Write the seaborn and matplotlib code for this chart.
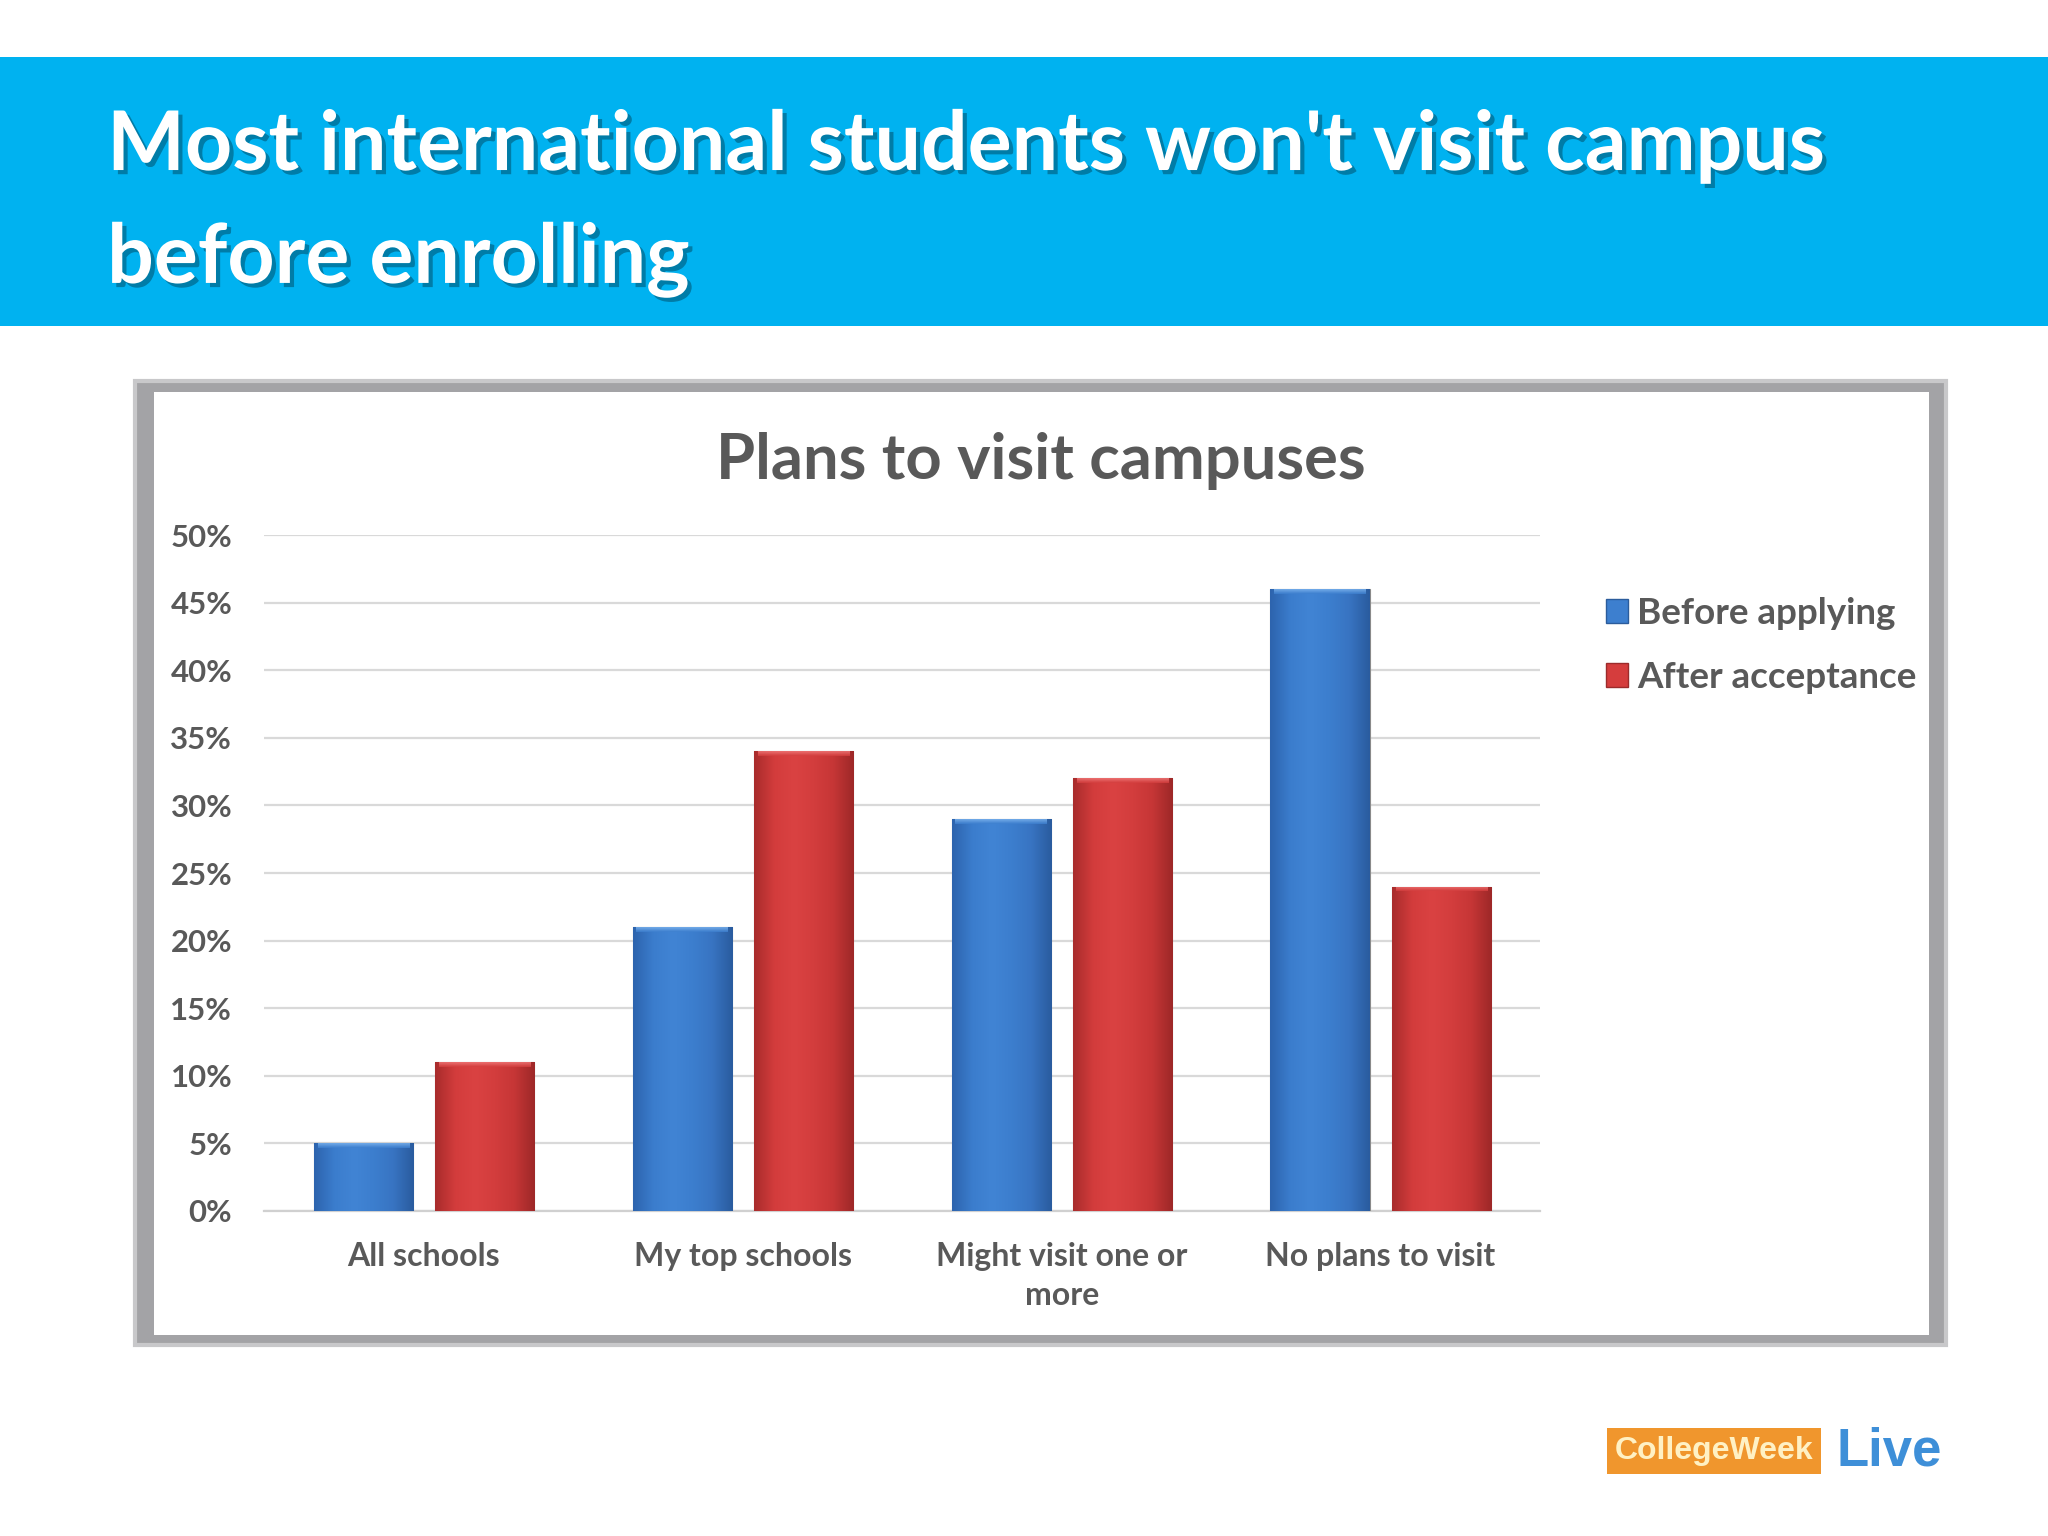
"""Plans to visit campuses: before applying vs after acceptance."""

import matplotlib.pyplot as plt
import numpy as np
import pandas as pd
import seaborn as sns
from matplotlib import patheffects
from matplotlib.colors import LinearSegmentedColormap
from matplotlib.patches import Patch, Rectangle

categories = [
    "All schools",
    "My top schools",
    "Might visit one or\nmore",
    "No plans to visit",
]
before_applying = [5, 21, 29, 46]
after_acceptance = [11, 34, 32, 24]
series_names = ["Before applying", "After acceptance"]
y_ticks = [0, 5, 10, 15, 20, 25, 30, 35, 40, 45, 50]

header_lines = ["Most international students won't visit campus", "before enrolling"]
chart_title = "Plans to visit campuses"

frame = pd.DataFrame(
    {
        "category": categories * 2,
        "value": before_applying + after_acceptance,
        "series": [series_names[0]] * len(categories) + [series_names[1]] * len(categories),
    }
)

BLUE = "#3D7FCF"
RED = "#D53D3D"
TEXT_GREY = "#595959"

sns.set_theme(style="white")
plt.rcParams["font.family"] = ["Lato", "DejaVu Sans"]

fig = plt.figure(figsize=(20.48, 15.36), dpi=100)
fig.patch.set_facecolor("white")

# blue header band with the slide title
fig.patches.append(
    Rectangle((0, 0.7878), 1, 0.1752, transform=fig.transFigure,
              facecolor="#00B2F0", edgecolor="none", zorder=-3)
)
shadow = [patheffects.withSimplePatchShadow(offset=(3, -3), alpha=0.3, shadow_rgbFace="black")]
for line, y in zip(header_lines, [0.8893, 0.8158]):
    fig.text(0.0523, y, line, color="white", fontsize=59.3, fontweight="bold",
             va="baseline", ha="left", path_effects=shadow)

# grey frame around the chart
fig.patches.append(
    Rectangle((0.0659, 0.1243), 0.8841, 0.6277, transform=fig.transFigure,
              facecolor="#A3A3A6", edgecolor="#C8C8CA", linewidth=3, zorder=-2)
)
fig.patches.append(
    Rectangle((0.0752, 0.1309), 0.8668, 0.6139, transform=fig.transFigure,
              facecolor="white", edgecolor="none", zorder=-1)
)

axis = fig.add_axes([0.129, 0.2116, 0.623, 0.4400])
axis.set_zorder(1)
axis.set_facecolor("none")
sns.barplot(
    data=frame,
    x="category",
    y="value",
    hue="series",
    palette=[BLUE, RED],
    width=0.76,
    gap=0.183,
    legend=False,
    ax=axis,
    zorder=3,
)

# Excel-like shading: darker side edges and a light bevel on top
side_shade = {
    BLUE: LinearSegmentedColormap.from_list(
        "blue", ["#2D64AE", "#3B7DCD", "#4184D4", "#3C7ECE", "#3874C2", "#2A5C9F"]),
    RED: LinearSegmentedColormap.from_list(
        "red", ["#A92C2C", "#D33C3C", "#DA4242", "#D33D3D", "#C63636", "#9E2828"]),
}
top_shade = {
    BLUE: LinearSegmentedColormap.from_list("blue_top", ["#3B7DCD", "#7DB4EE"]),
    RED: LinearSegmentedColormap.from_list("red_top", ["#D33C3C", "#F07A7A"]),
}
ramp = np.linspace(0, 1, 64).reshape(1, -1)
bevel = np.linspace(0, 1, 16).reshape(-1, 1)
xlim = axis.get_xlim()
for bar in list(axis.patches):
    x0, y0 = bar.get_x(), bar.get_y()
    w, h = bar.get_width(), bar.get_height()
    face = BLUE if bar.get_facecolor()[2] > bar.get_facecolor()[0] else RED
    body = axis.imshow(ramp, extent=[x0, x0 + w, y0, y0 + h], aspect="auto",
                       cmap=side_shade[face], zorder=3.5, interpolation="bicubic")
    body.set_clip_path(bar)
    cap = axis.imshow(bevel, extent=[x0 + w * 0.04, x0 + w * 0.96, y0 + h - 0.35, y0 + h],
                      aspect="auto", cmap=top_shade[face], origin="lower",
                      zorder=3.6, interpolation="bicubic", alpha=0.85)
    cap.set_clip_path(bar)
    bar.set_edgecolor("#8A8A8A")
    bar.set_linewidth(0.8)
axis.set_xlim(xlim)
axis.set_ylim(0, 50)

axis.set_yticks(y_ticks)
axis.set_yticklabels([f"{tick}%" for tick in y_ticks])
axis.grid(axis="y", color="#D9D9D9", linewidth=1.6, zorder=0)
axis.grid(axis="x", visible=False)
for side in ("top", "right", "left"):
    axis.spines[side].set_visible(False)
axis.spines["bottom"].set_color("#D0D0D0")
axis.spines["bottom"].set_linewidth(1.6)
axis.tick_params(axis="y", length=0, pad=23, labelsize=22.4, labelcolor=TEXT_GREY)
axis.tick_params(axis="x", length=0, pad=22, labelsize=23, labelcolor=TEXT_GREY)
for label in axis.get_yticklabels() + axis.get_xticklabels():
    label.set_fontweight("bold")
for label in axis.get_xticklabels():
    label.set_linespacing(1.45)
axis.set_xlabel("")
axis.set_ylabel("")

fig.text(0.5083, 0.6999, chart_title, ha="center", va="center",
         fontsize=45.5, fontweight="bold", color=TEXT_GREY)

handles = [
    Patch(facecolor=BLUE, edgecolor="#2B5C9C", label=series_names[0]),
    Patch(facecolor=RED, edgecolor="#9C2B2B", label=series_names[1]),
]
legend = fig.legend(
    handles=handles,
    loc="upper left",
    bbox_to_anchor=(0.768, 0.633),
    frameon=False,
    fontsize=26.5,
    handlelength=0.6,
    handleheight=0.6,
    handletextpad=0.25,
    labelspacing=0.85,
)
for text in legend.get_texts():
    text.set_color(TEXT_GREY)
    text.set_fontweight("bold")

# CollegeWeek Live logo
fig.text(0.7885, 0.0553, "CollegeWeek", ha="left", va="center",
         fontsize=23, fontweight="bold", color="#FFF1C4", family="Liberation Sans",
         bbox=dict(boxstyle="square,pad=0.25", facecolor="#F0962D", edgecolor="none"))
fig.text(0.8965, 0.0553, "Live", ha="left", va="center",
         fontsize=38, fontweight="bold", color="#3E8FD8", family="Liberation Sans")

fig.savefig("out.png", dpi=100)
